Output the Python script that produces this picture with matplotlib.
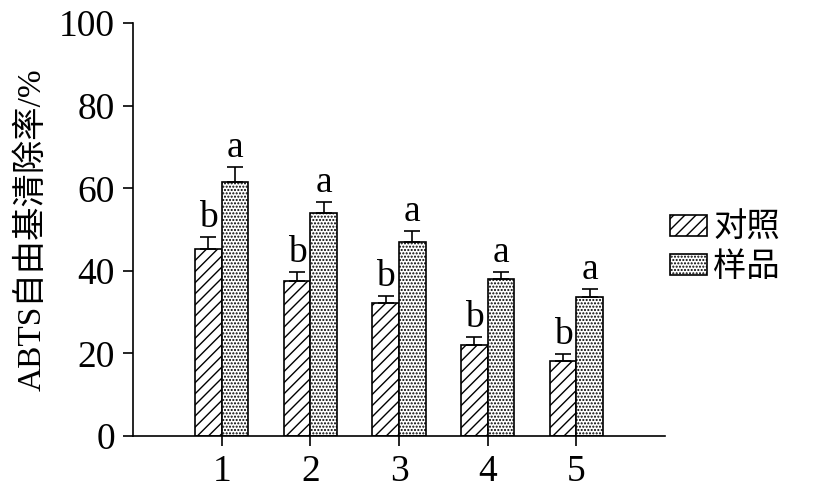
import numpy as np
import matplotlib
matplotlib.use("Agg")
import matplotlib.pyplot as plt

groups = ["1", "2", "3", "4", "5"]
control = [45.3, 37.5, 32.2, 22.0, 18.2]
control_err = [2.9, 2.2, 1.7, 2.0, 1.7]
sample = [61.5, 54.0, 47.0, 38.0, 33.7]
sample_err = [3.6, 2.7, 2.6, 1.7, 1.9]
control_sig = ["b", "b", "b", "b", "b"]
sample_sig = ["a", "a", "a", "a", "a"]
series_names = ["对照", "样品"]

serif = ["Liberation Serif", "Noto Sans CJK SC"]
plt.rcParams["font.family"] = serif
plt.rcParams["hatch.linewidth"] = 1.0

fig = plt.figure(figsize=(8.16, 5.04), dpi=100)
ax = fig.add_axes([0.163, 0.135, 0.652, 0.819])

x = np.arange(1, len(groups) + 1)
w = 0.3
b1 = ax.bar(x - w / 2, control, w, yerr=[np.zeros(5), control_err],
            color="white", edgecolor="black", hatch="///", linewidth=1.2,
            error_kw=dict(ecolor="black", elinewidth=1.2, capsize=6, capthick=1.2),
            label=series_names[0])
b2 = ax.bar(x + w / 2, sample, w, yerr=[np.zeros(5), sample_err],
            color="white", edgecolor="black", hatch=".....", linewidth=1.2,
            error_kw=dict(ecolor="black", elinewidth=1.2, capsize=6, capthick=1.2),
            label=series_names[1])

for i in range(len(groups)):
    ax.text(x[i] - w / 2, control[i] + control_err[i] + 0.5, control_sig[i],
            ha="center", va="bottom", fontsize=27, family=serif)
    ax.text(x[i] + w / 2, sample[i] + sample_err[i] + 0.5, sample_sig[i],
            ha="center", va="bottom", fontsize=27, family=serif)

ax.set_xlim(0, 6)
ax.set_ylim(0, 100)
ax.set_xticks(x)
ax.set_xticklabels(groups)
ax.set_yticks(range(0, 101, 20))
ax.tick_params(axis="both", labelsize=27, direction="out", length=7, width=1.2, pad=6)
for s in ["top", "right"]:
    ax.spines[s].set_visible(False)
for s in ["left", "bottom"]:
    ax.spines[s].set_linewidth(1.2)

ax.set_ylabel("ABTS自由基清除率/%", fontsize=24, family=serif, labelpad=8)

ax.legend(handles=[b1, b2], loc="upper left", bbox_to_anchor=(0.978, 0.58),
          frameon=False, borderpad=0, handlelength=1.1, handleheight=0.6,
          handletextpad=0.2, labelspacing=0.25, prop={"family": serif, "size": 24})

plt.savefig("out.png", dpi=100)
